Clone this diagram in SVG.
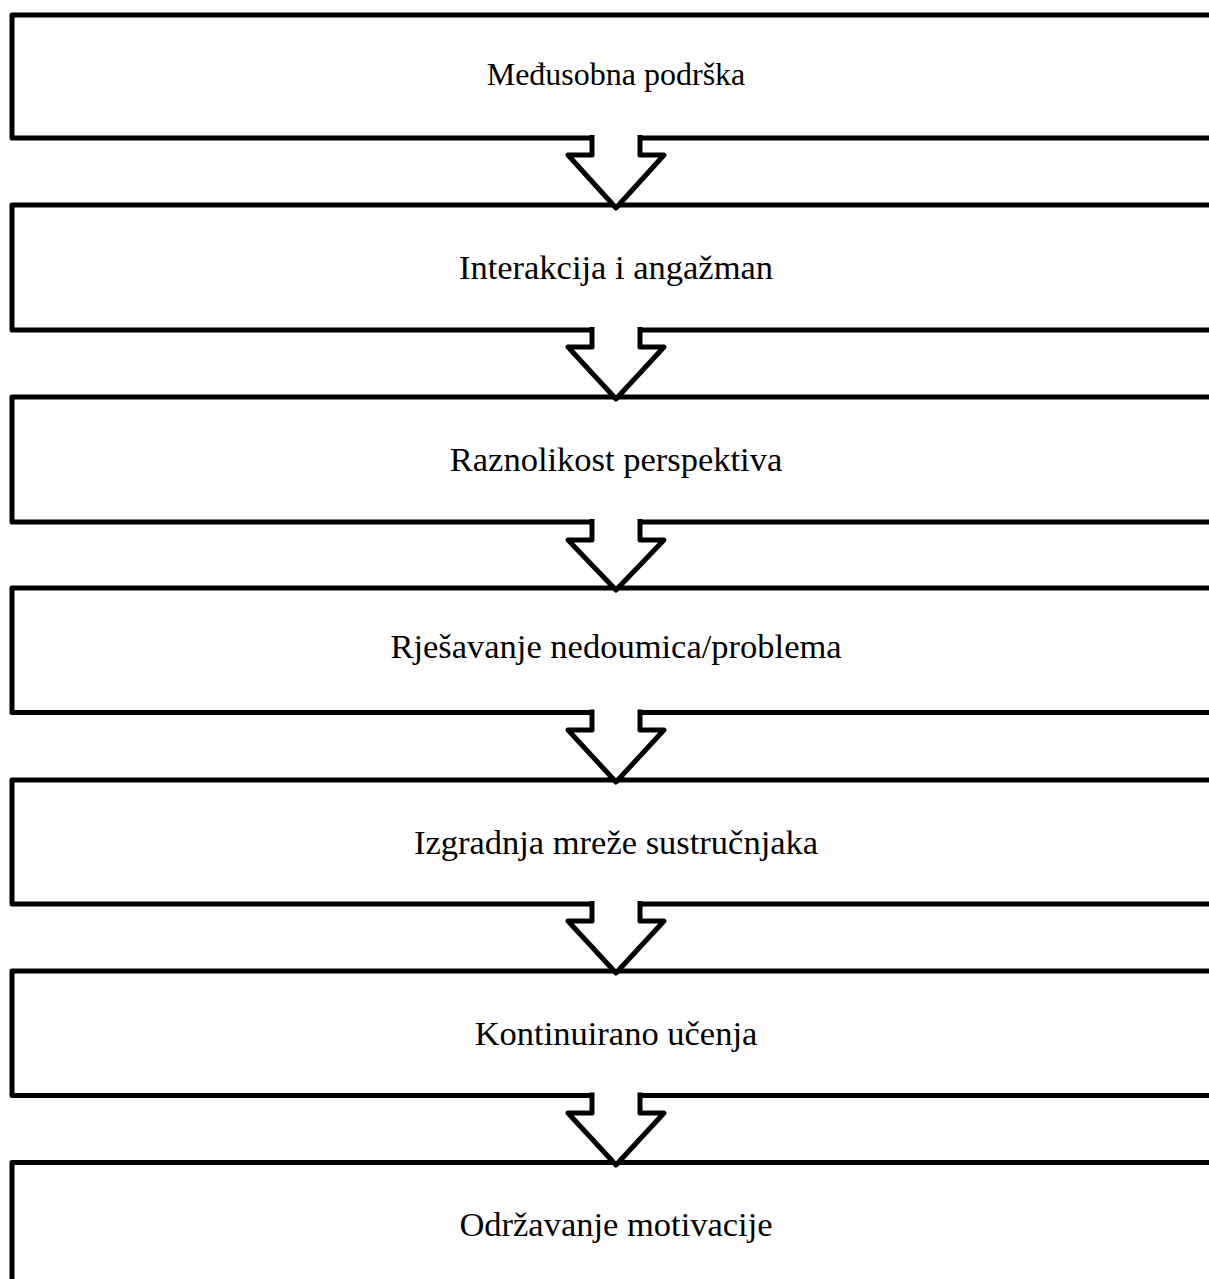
<svg xmlns="http://www.w3.org/2000/svg" width="1209" height="1279" viewBox="0 0 1209 1279">
<style>
.box{fill:#fff;stroke:#000;stroke-width:5;stroke-linejoin:round}
.arr{fill:#fff;stroke:#000;stroke-width:5;stroke-linejoin:round}
.t{font-family:"Liberation Serif","Times New Roman",serif;font-size:34.5px;fill:#000;text-anchor:middle}
.t1{font-size:32px}
</style>
<rect width="1209" height="1279" fill="#fff"/>
<g id="node1"><rect class="box" x="12" y="15" width="1260" height="123"/><text class="t t1" x="616" y="85">Međusobna podrška</text></g>
<g id="node2"><rect class="box" x="12" y="205" width="1260" height="125"/><text class="t" x="616" y="279">Interakcija i angažman</text></g>
<g id="node3"><rect class="box" x="12" y="397" width="1260" height="125"/><text class="t" x="616" y="471">Raznolikost perspektiva</text></g>
<g id="node4"><rect class="box" x="12" y="588" width="1260" height="124.5"/><text class="t" x="616" y="658">Rješavanje nedoumica/problema</text></g>
<g id="node5"><rect class="box" x="12" y="780" width="1260" height="124"/><text class="t" x="616" y="854">Izgradnja mreže sustručnjaka</text></g>
<g id="node6"><rect class="box" x="12" y="971" width="1260" height="124.5"/><text class="t" x="616" y="1045">Kontinuirano učenja</text></g>
<g id="node7"><rect class="box" x="12" y="1162.5" width="1260" height="200"/><text class="t" x="616" y="1236">Održavanje motivacije</text></g>
<g id="connectors">
<path class="arr" d="M592,135 V155 H568 L616,208 L664,155 H640 V135"/>
<path class="arr" d="M592,327 V347 H568 L616,399 L664,347 H640 V327"/>
<path class="arr" d="M592,519 V540 H568 L616,590 L664,540 H640 V519"/>
<path class="arr" d="M592,709.5 V730 H568 L616,782 L664,730 H640 V709.5"/>
<path class="arr" d="M592,901 V921 H568 L616,973 L664,921 H640 V901"/>
<path class="arr" d="M592,1092.5 V1113 H568 L616,1165 L664,1113 H640 V1092.5"/>
</g>
</svg>
